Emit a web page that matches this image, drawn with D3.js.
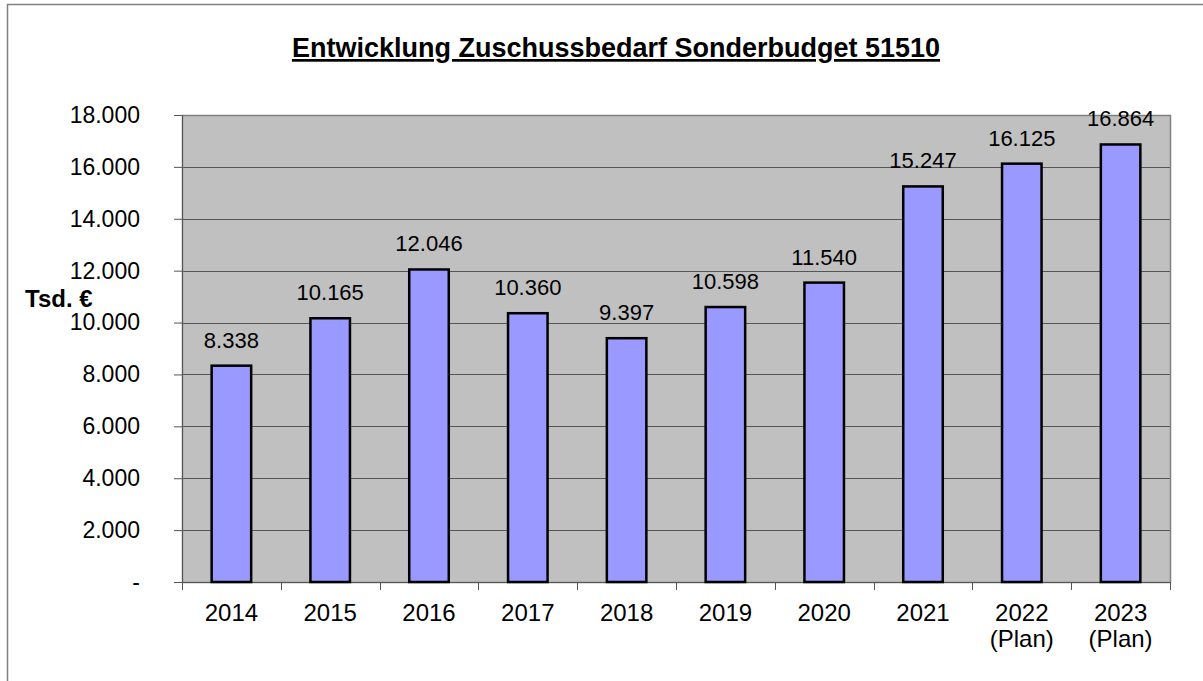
<!DOCTYPE html>
<html>
<head>
<meta charset="utf-8">
<script src="https://d3js.org/d3.v7.min.js"></script>
<style>
  body { margin: 0; background: #fff; }
  svg text { font-family: "Liberation Sans", Arial, sans-serif; fill: #000; }
</style>
</head>
<body>
<svg id="chart" width="1203" height="681"></svg>
<script>
// data
var years = ["2014", "2015", "2016", "2017", "2018", "2019", "2020", "2021", "2022", "2023"];
var subLabels = ["", "", "", "", "", "", "", "", "(Plan)", "(Plan)"];
var values = [8338, 10165, 12046, 10360, 9397, 10598, 11540, 15247, 16125, 16864];
var yTicks = [0, 2000, 4000, 6000, 8000, 10000, 12000, 14000, 16000, 18000];

var svg = d3.select("#chart");
var margin = {top: 115, left: 182, right: 33, bottom: 99};
var width = 1203 - margin.left - margin.right,
    height = 681 - margin.top - margin.bottom;

// german number format, zero shown as "-"
var fmt = d3.formatLocale({decimal: ",", thousands: ".", grouping: [3], currency: ["", " €"]}).format(",d");
function tickFmt(v) { return v === 0 ? "-" : fmt(v); }

// outer frame (runs off the right and bottom edge)
svg.append("rect")
  .attr("x", 7.5).attr("y", 4.5)
  .attr("width", 1220).attr("height", 700)
  .attr("fill", "none").attr("stroke", "#808080").attr("stroke-width", 1.5);

svg.append("text")
  .attr("x", 616).attr("y", 57)
  .attr("text-anchor", "middle")
  .attr("font-size", "27px").attr("font-weight", "bold")
  .style("text-decoration", "underline")
  .text("Entwicklung Zuschussbedarf Sonderbudget 51510");

var x = d3.scaleBand().domain(years).range([0, width]).paddingInner(0.6).paddingOuter(0.3);
var xCat = d3.scaleBand().domain(years).range([0, width]);
var y = d3.scaleLinear().domain([0, 18000]).range([height, 0]);

var g = svg.append("g").attr("transform", "translate(" + margin.left + "," + margin.top + ")");

g.append("rect")
  .attr("width", width).attr("height", height)
  .attr("fill", "#c0c0c0");

// gridlines
g.append("g")
  .selectAll("line")
  .data(yTicks.filter(function(d) { return d > 0; }))
  .enter().append("line")
  .attr("x1", 0).attr("x2", width)
  .attr("y1", function(d) { return Math.round(y(d)) + 0.5; })
  .attr("y2", function(d) { return Math.round(y(d)) + 0.5; })
  .attr("stroke", "#555").attr("stroke-width", 1);

// plot border
g.append("rect")
  .attr("x", 0.5).attr("y", 0.5)
  .attr("width", width).attr("height", height)
  .attr("fill", "none").attr("stroke", "#808080").attr("stroke-width", 1.5);

// y axis
var yAxis = g.append("g")
  .call(d3.axisLeft(y).tickValues(yTicks).tickFormat(tickFmt).tickSize(8).tickPadding(34));
yAxis.select(".domain").attr("stroke", "#555");
yAxis.selectAll(".tick line").attr("stroke", "#555");
yAxis.selectAll("text").attr("font-size", "23px").attr("font-family", "Liberation Sans, Arial, sans-serif");

svg.append("text")
  .attr("x", 25).attr("y", 307)
  .attr("font-size", "24px").attr("font-weight", "bold")
  .text("Tsd. €");

// x axis: ticks between categories
var xAxisG = g.append("g").attr("transform", "translate(0," + height + ")");
xAxisG.append("line")
  .attr("x1", 0).attr("x2", width)
  .attr("y1", 0.5).attr("y2", 0.5)
  .attr("stroke", "#555");
xAxisG.selectAll(".sep")
  .data(years.concat(["end"]))
  .enter().append("line")
  .attr("class", "sep")
  .attr("x1", function(d, i) { return Math.round(i * xCat.step()) + 0.5; })
  .attr("x2", function(d, i) { return Math.round(i * xCat.step()) + 0.5; })
  .attr("y1", 0).attr("y2", 8)
  .attr("stroke", "#555");

var xl = xAxisG.selectAll(".xl")
  .data(years)
  .enter().append("text")
  .attr("class", "xl")
  .attr("text-anchor", "middle")
  .attr("font-size", "24px")
  .attr("x", function(d) { return xCat(d) + xCat.bandwidth() / 2; })
  .attr("y", 39);
xl.append("tspan").text(function(d) { return d; });
xl.append("tspan")
  .attr("x", function(d) { return xCat(d) + xCat.bandwidth() / 2; })
  .attr("dy", 26)
  .text(function(d, i) { return subLabels[i]; });

// bars
g.selectAll(".bar")
  .data(values)
  .enter().append("rect")
  .attr("class", "bar")
  .attr("x", function(d, i) { return x(years[i]); })
  .attr("y", function(d) { return y(d); })
  .attr("width", x.bandwidth())
  .attr("height", function(d) { return height - y(d); })
  .attr("fill", "#9999ff")
  .attr("stroke", "#000").attr("stroke-width", 2.5);

// value labels
g.selectAll(".val")
  .data(values)
  .enter().append("text")
  .attr("class", "val")
  .attr("text-anchor", "middle")
  .attr("font-size", "22px")
  .attr("x", function(d, i) { return x(years[i]) + x.bandwidth() / 2; })
  .attr("y", function(d) { return y(d) - 18; })
  .text(function(d) { return fmt(d); });
</script>
</body>
</html>
